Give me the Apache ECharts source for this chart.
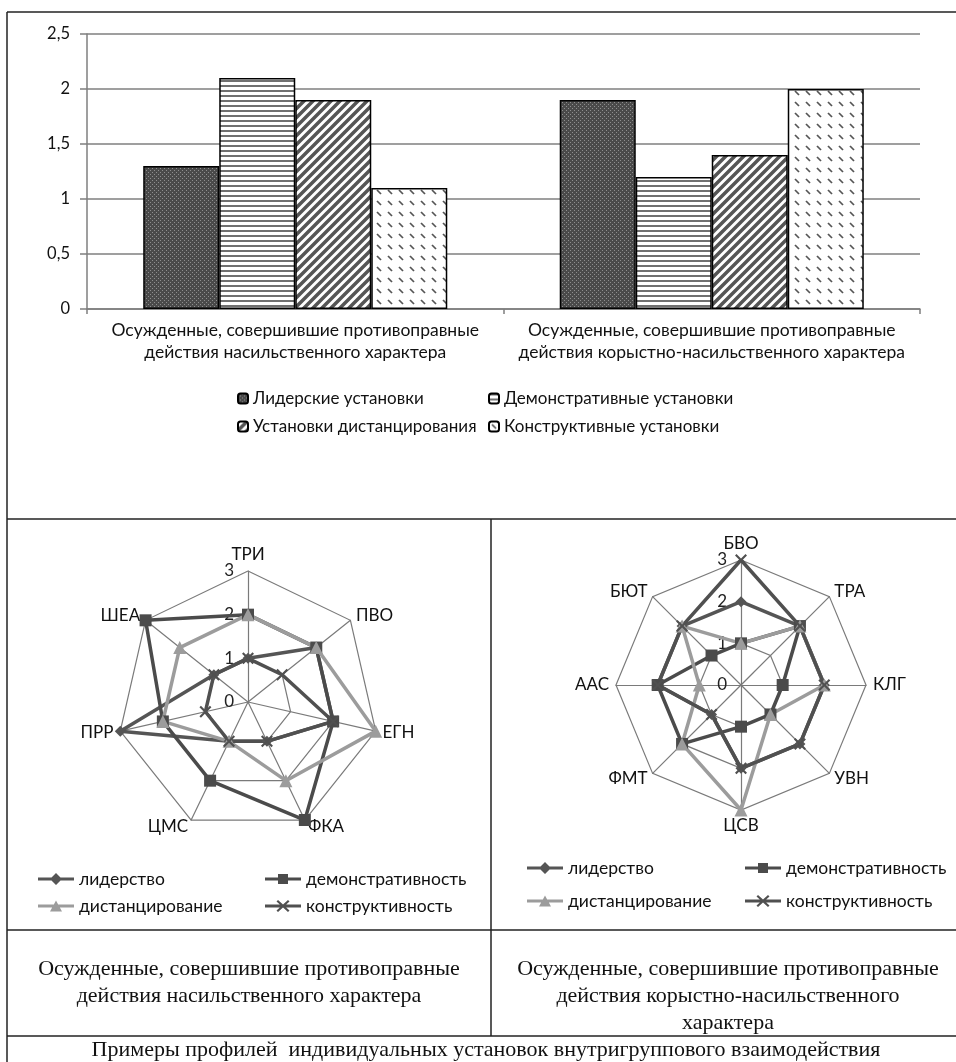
<!DOCTYPE html>
<html>
<head>
<meta charset="utf-8">
<script src="https://cdn.jsdelivr.net/npm/echarts@6/dist/echarts.min.js"></script>
<style>
  html, body { margin: 0; padding: 0; background: #ffffff; }
  #chart { width: 956px; height: 1062px; }
</style>
</head>
<body>
<div id="chart"></div>
<script>
// ---- Bar chart data ----
const barCategories = [
  'Осужденные, совершившие противоправные\nдействия насильственного характера',
  'Осужденные, совершившие противоправные\nдействия корыстно-насильственного характера'
];
const barNames = ['Лидерские установки', 'Демонстративные установки', 'Установки дистанцирования', 'Конструктивные установки'];
const leaderBars = [1.3, 1.9];
const demoBars = [2.1, 1.2];
const distBars = [1.9, 1.4];
const constrBars = [1.1, 2.0];

// ---- Radar data (axes listed clockwise from the top) ----
const radarNames = ['лидерство', 'демонстративность', 'дистанцирование', 'конструктивность'];
const leftAxes = ['ТРИ', 'ПВО', 'ЕГН', 'ФКА', 'ЦМС', 'ПРР', 'ШЕА'];
const leftLeader = [1, 2, 2, 1, 1, 3, 1];
const leftDemo = [2, 2, 2, 3, 2, 2, 3];
const leftDist = [2, 2, 3, 2, 1, 2, 2];
const leftConstr = [1, 1, 2, 1, 1, 1, 1];

const rightAxes = ['БВО', 'ТРА', 'КЛГ', 'УВН', 'ЦСВ', 'ФМТ', 'ААС', 'БЮТ'];
const rightLeader = [2, 2, 2, 2, 2, 1, 2, 2];
const rightDemo = [1, 2, 1, 1, 1, 2, 2, 1];
const rightDist = [1, 2, 2, 1, 3, 2, 1, 2];
const rightConstr = [3, 2, 2, 2, 2, 1, 2, 2];

const captionLeft = 'Осужденные, совершившие противоправные\nдействия насильственного характера';
const captionRight = 'Осужденные, совершившие противоправные\nдействия корыстно-насильственного\nхарактера';
const captionBottom = 'Примеры профилей  индивидуальных установок внутригруппового взаимодействия';

// ---- Hatch fills ----
function tile(w, h, paint) {
  const c = document.createElement('canvas');
  c.width = w; c.height = h;
  const g = c.getContext('2d');
  paint(g, w, h);
  return { image: c, repeat: 'repeat' };
}
const leaderFill = tile(4, 4, function (g) {
  g.fillStyle = '#4a4a4a'; g.fillRect(0, 0, 4, 4);
  g.fillStyle = '#8e8e8e'; g.fillRect(0, 0, 1, 1); g.fillRect(2, 2, 1, 1);
});
const demoFill = tile(4, 5, function (g) {
  g.fillStyle = '#ffffff'; g.fillRect(0, 0, 4, 5);
  g.fillStyle = '#707070'; g.fillRect(0, 0, 4, 2);
});
const distFill = tile(9, 9, function (g) {
  g.fillStyle = '#ffffff'; g.fillRect(0, 0, 9, 9);
  g.strokeStyle = '#555555'; g.lineWidth = 3.5;
  g.beginPath();
  g.moveTo(-1, 10); g.lineTo(10, -1);
  g.moveTo(-5.5, 5.5); g.lineTo(5.5, -5.5);
  g.moveTo(3.5, 14.5); g.lineTo(14.5, 3.5);
  g.stroke();
});
const constrFill = tile(11, 11, function (g) {
  g.fillStyle = '#ffffff'; g.fillRect(0, 0, 11, 11);
  g.strokeStyle = '#555555'; g.lineWidth = 1.7;
  g.beginPath(); g.moveTo(3, 3); g.lineTo(7, 7); g.stroke();
});
const barFills = [leaderFill, demoFill, distFill, constrFill];
const barValues = [leaderBars, demoBars, distBars, constrBars];

// ---- Radar styling ----
const lineColors = ['#555555', '#4b4b4b', '#9c9c9c', '#505050'];
const xMark = 'path://M0,1.5L1.5,0L6,4.5L10.5,0L12,1.5L7.5,6L12,10.5L10.5,12L6,7.5L1.5,12L0,10.5L4.5,6Z';
const markers = ['diamond', 'rect', 'triangle', xMark];
const markerSizes = [11, 12, 13, 12];
const legendIcons = [
  'path://M0,4.5H36V7.5H0Z M18,0L24,6L18,12L12,6Z',
  'path://M0,4.5H36V7.5H0Z M13,1H23V11H13Z',
  'path://M0,4.5H36V7.5H0Z M18,0.5L24,11.5H12Z',
  'path://M0,4.5H36V7.5H0Z M13,0L18,4.6L23,0L24.5,1.4L19.5,6L24.5,10.6L23,12L18,7.4L13,12L11.5,10.6L16.5,6L11.5,1.4Z'
];

// ECharts lays radar indicators out counter-clockwise; flip to keep clockwise order
function clockwise(arr) { return [arr[0]].concat(arr.slice(1).reverse()); }

function radarComponent(axes, center, radius) {
  return {
    center: center,
    radius: radius,
    startAngle: 90,
    shape: 'polygon',
    splitNumber: 3,
    nameGap: 7,
    indicator: clockwise(axes).map(function (n, i) {
      const ind = { name: n, min: 0, max: 3 };
      if (i === 0) ind.axisLabel = { show: true };
      return ind;
    }),
    axisName: { color: '#111', fontSize: 17, fontFamily: 'Lato' },
    splitLine: { lineStyle: { color: '#7a7a7a', width: 1.2 } },
    splitArea: { show: false },
    axisLine: { lineStyle: { color: '#7a7a7a', width: 1.2 } },
    axisTick: { show: false },
    axisLabel: { show: false, color: '#222', fontSize: 17, fontFamily: 'Lato', margin: 14 }
  };
}

function radarSeries(idx, sets) {
  return {
    type: 'radar',
    radarIndex: idx,
    silent: true,
    data: sets.map(function (vals, i) {
      return {
        name: radarNames[i],
        value: clockwise(vals),
        symbol: markers[i],
        symbolSize: markerSizes[i],
        lineStyle: { color: lineColors[i], width: 3.5 },
        itemStyle: { color: lineColors[i] }
      };
    })
  };
}

function legendAt(name, left, top, opts) {
  return Object.assign({
    data: [name], left: left, top: top, padding: 0, itemGap: 0,
    selectedMode: false, textStyle: { fontFamily: 'Lato', fontSize: 17, color: '#111' }
  }, opts || {});
}

const legends = [
  legendAt(barNames[0], 237, 390, { itemWidth: 10, itemHeight: 10 }),
  legendAt(barNames[1], 488, 390, { itemWidth: 10, itemHeight: 10 }),
  legendAt(barNames[2], 237, 418, { itemWidth: 10, itemHeight: 10 }),
  legendAt(barNames[3], 488, 418, { itemWidth: 10, itemHeight: 10 })
];
const radarLegendSpots = [
  [38, 870], [265, 870], [38, 897], [265, 897],
  [527, 859], [745, 859], [527, 892], [745, 892]
];
radarLegendSpots.forEach(function (p, k) {
  const i = k % 4;
  legends.push(legendAt({ name: radarNames[i], icon: legendIcons[i] }, p[0], p[1], {
    itemWidth: 36, itemHeight: 12,
    textStyle: { fontFamily: 'Lato', fontSize: 17.5, color: '#111' }
  }));
});

const frame = { stroke: '#222222', lineWidth: 1.5 };
function hline(y, x1, x2) { return { type: 'line', silent: true, shape: { x1: x1, y1: y, x2: x2, y2: y }, style: frame }; }
function vline(x, y1, y2) { return { type: 'line', silent: true, shape: { x1: x, y1: y1, x2: x, y2: y2 }, style: frame }; }
function caption(text, x, y, lh) {
  return {
    type: 'text', silent: true, x: x, y: y,
    style: { text: text, align: 'center', verticalAlign: 'top', fill: '#111',
      font: '22px "Liberation Serif", "DejaVu Serif", serif', lineHeight: lh }
  };
}

const chart = echarts.init(document.getElementById('chart'), null, { renderer: 'canvas' });
chart.setOption({
  animation: false,
  backgroundColor: '#ffffff',
  grid: { left: 87, right: 36, top: 34, height: 275, containLabel: false },
  xAxis: {
    type: 'category',
    data: barCategories,
    axisLine: { lineStyle: { color: '#7f7f7f', width: 1.5 } },
    axisTick: { show: true, length: 5, lineStyle: { color: '#7f7f7f', width: 1.5 } },
    axisLabel: { color: '#111', fontFamily: 'Lato', fontSize: 17.5, lineHeight: 22, margin: 10, interval: 0 }
  },
  yAxis: {
    type: 'value',
    min: 0, max: 2.5, interval: 0.5,
    axisLine: { show: true, lineStyle: { color: '#7f7f7f', width: 1.5 } },
    axisTick: { show: true, length: 7, lineStyle: { color: '#7f7f7f', width: 1.5 } },
    splitLine: { lineStyle: { color: '#7f7f7f', width: 1.5 } },
    axisLabel: {
      color: '#111', fontFamily: 'Lato', fontSize: 16.5, margin: 17,
      formatter: function (v) { return String(v).replace('.', ','); }
    }
  },
  legend: legends,
  radar: [
    radarComponent(leftAxes, [248, 702], 131),
    radarComponent(rightAxes, [741, 685], 125)
  ],
  series: barNames.map(function (n, i) {
    return {
      type: 'bar',
      name: n,
      data: barValues[i],
      barGap: '0%',
      barCategoryGap: '27%',
      silent: true,
      itemStyle: { color: barFills[i], borderColor: '#000000', borderWidth: 1.5 }
    };
  }).concat([
    radarSeries(0, [leftLeader, leftDemo, leftDist, leftConstr]),
    radarSeries(1, [rightLeader, rightDemo, rightDist, rightConstr])
  ]),
  graphic: [
    hline(12, 7, 956),
    vline(7, 12, 1062),
    hline(519, 7, 956),
    hline(930, 7, 956),
    hline(1036, 7, 956),
    vline(491, 519, 1036),
    caption(captionLeft, 249, 956, 27),
    caption(captionRight, 728, 956, 27),
    caption(captionBottom, 486, 1038, 24)
  ]
});
</script>
</body>
</html>
